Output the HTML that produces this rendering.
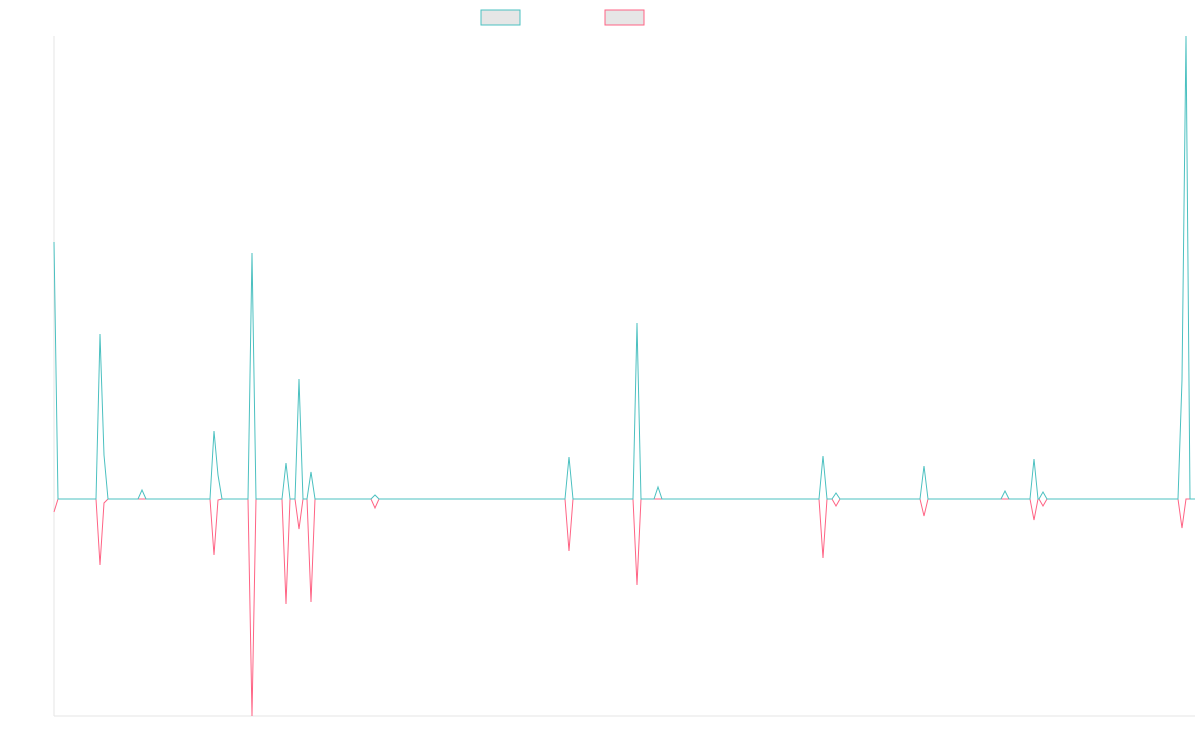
<!DOCTYPE html>
<html><head><style>body{margin:0;background:#fff}svg{display:block}</style></head><body>
<svg width="1200" height="750" xmlns="http://www.w3.org/2000/svg">
<rect x="481" y="10" width="39" height="15" fill="#e6e6e6" stroke="#4bc0c0" stroke-width="1"/>
<rect x="605" y="10" width="39" height="15" fill="#e6e6e6" stroke="#ff6384" stroke-width="1"/>
<line x1="54" y1="36" x2="54" y2="716" stroke="#e5e5e5"/>
<line x1="54" y1="716" x2="1195" y2="716" stroke="#e5e5e5"/>
<polyline fill="none" stroke="#ff6384" stroke-width="1" points="54,512 58,499 96,499 100,565 104,503 108,499 210,499 214,555 218,500 222,499 248,499 252,716 256,499 282,499 286,604 290,499 295,499 299,529 303,499 307,499 311,602 315,499 371,499 375,508 379,499 565,499 569,551 573,499 633,499 637,585 641,499 819,499 823,558 827,499 832,499 836,506 840,499 920,499 924,516 928,499 1030,499 1034,520 1038,499 1039,499 1043,506 1047,499 1178,499 1182,528 1186,499 1195,499"/>
<polyline fill="none" stroke="#4bc0c0" stroke-width="1" points="54,242 58,499 96,499 100,334 104,455 108,499 138,499 142,490 146,499 210,499 214,431 218,475 222,499 248,499 252,253 256,499 282,499 286,463 290,499 295,499 299,379 303,499 307,499 311,472 315,499 371,499 375,495 379,499 565,499 569,457 573,499 633,499 637,323 641,499 654,499 658,487 662,499 819,499 823,456 827,499 832,499 836,493 840,499 920,499 924,466 928,499 1001,499 1005,491 1009,499 1030,499 1034,459 1038,499 1039,499 1043,492 1047,499 1178,499 1182,380 1186,36 1190,499 1195,499"/>
</svg>
</body></html>
